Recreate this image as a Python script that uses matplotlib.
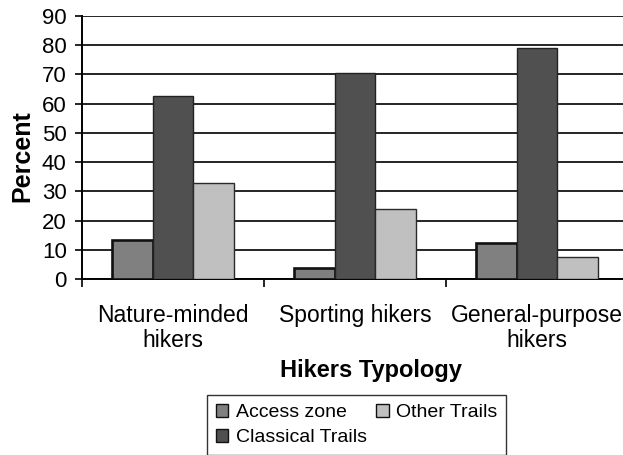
import matplotlib
matplotlib.use("Agg")
import matplotlib.pyplot as plt
import numpy as np

plt.rcParams['font.family'] = ['Liberation Sans', 'DejaVu Sans']

categories = ["Nature-minded\nhikers", "Sporting hikers", "General-purpose\nhikers"]
series_names = ["Access zone", "Classical Trails", "Other Trails"]
access_zone = [13.3, 3.9, 12.2]
classical_trails = [62.5, 70.5, 79.0]
other_trails = [32.7, 24.0, 7.4]
y_ticks = [0, 10, 20, 30, 40, 50, 60, 70, 80, 90]

W, H = 623, 455
fig = plt.figure(figsize=(W / 100, H / 100), dpi=100)
ax = fig.add_axes([82 / W, 1 - 279 / H, (628 - 82) / W, (279 - 16) / H])

x = np.arange(len(categories)) + 0.5
bw = 0.222
styles = [
    dict(color="#808080", edgecolor="#111111", linewidth=1.9),
    dict(color="#505050", edgecolor="#222222", linewidth=1.0),
    dict(color="#c0c0c0", edgecolor="#2a2a2a", linewidth=1.0),
]
data = [access_zone, classical_trails, other_trails]
for i, (vals, name, st) in enumerate(zip(data, series_names, styles)):
    ax.bar(x + (i - 1) * bw, vals, bw, label=name, zorder=3, **st)

ax.set_xlim(0, 3)
ax.set_ylim(0, 90)
ax.set_yticks(y_ticks)
ax.yaxis.grid(True, color="black", linewidth=1.2, zorder=0)
ax.set_axisbelow(True)

ax.set_xticks([0, 1, 2, 3])
ax.set_xticklabels([])
ax.set_xticks(x, minor=True)
ax.set_xticklabels(categories, minor=True, fontsize=16.5, linespacing=1.1)
ax.tick_params(axis="x", which="minor", length=0, pad=18)
ax.tick_params(axis="x", which="major", length=6, width=1.2, direction="out")
ax.tick_params(axis="y", length=5, width=1.2, direction="out", labelsize=16, pad=6)

for s in ["top", "right"]:
    ax.spines[s].set_visible(False)
ax.spines["left"].set_linewidth(1.4)
ax.spines["bottom"].set_linewidth(1.4)

fig.text(22 / W, 1 - 156 / H, "Percent", rotation=90, fontsize=18, fontweight="bold",
         ha="center", va="center")
fig.text(371 / W, 1 - 370 / H, "Hikers Typology", fontsize=17, fontweight="bold",
         ha="center", va="center")

leg = ax.legend(loc="upper left", bbox_to_anchor=(207 / W, 1 - 395 / H),
                bbox_transform=fig.transFigure, ncol=2, fontsize=14,
                frameon=True, fancybox=False, edgecolor="black",
                handlelength=0.65, handleheight=0.65, handletextpad=0.4,
                columnspacing=0.45, borderpad=0.45, labelspacing=0.4,
                borderaxespad=0)
leg.get_frame().set_linewidth(1.0)
for h in leg.legend_handles:
    h.set_linewidth(1.0)
    h.set_edgecolor("#111111")

fig.savefig("out.png", dpi=100)
